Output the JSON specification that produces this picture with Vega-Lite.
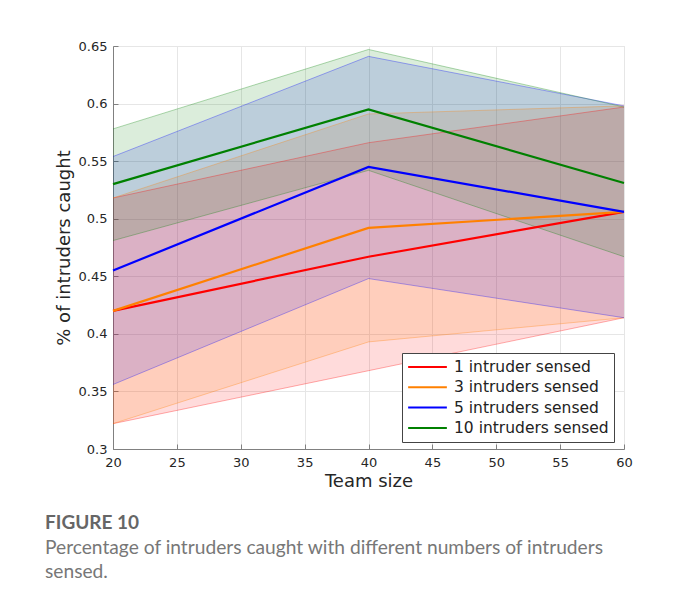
{
  "$schema": "https://vega.github.io/schema/vega-lite/v6.json",
  "width": 511,
  "height": 403,
  "padding": {"left": 45, "top": 40, "right": 5, "bottom": 5},
  "background": "white",
  "title": {
    "text": "FIGURE 10",
    "subtitle": ["Percentage of intruders caught with different numbers of intruders", "sensed."],
    "orient": "bottom",
    "anchor": "start",
    "frame": "group",
    "dx": -68,
    "offset": 24,
    "font": "Lato",
    "fontSize": 19,
    "fontWeight": "bold",
    "color": "#666666",
    "subtitleFont": "Lato",
    "subtitleFontSize": 19.2,
    "subtitleColor": "#777777",
    "subtitleLineHeight": 24,
    "subtitlePadding": 6
  },
  "data": {
    "values": [
      {"team": 20, "series": "1 intruder sensed", "mean": 0.42, "lo": 0.322, "hi": 0.518},
      {"team": 40, "series": "1 intruder sensed", "mean": 0.467, "lo": 0.368, "hi": 0.566},
      {"team": 60, "series": "1 intruder sensed", "mean": 0.506, "lo": 0.414, "hi": 0.597},
      {"team": 20, "series": "3 intruders sensed", "mean": 0.42, "lo": 0.322, "hi": 0.518},
      {"team": 40, "series": "3 intruders sensed", "mean": 0.492, "lo": 0.393, "hi": 0.591},
      {"team": 60, "series": "3 intruders sensed", "mean": 0.506, "lo": 0.414, "hi": 0.598},
      {"team": 20, "series": "5 intruders sensed", "mean": 0.455, "lo": 0.356, "hi": 0.554},
      {"team": 40, "series": "5 intruders sensed", "mean": 0.545, "lo": 0.448, "hi": 0.641},
      {"team": 60, "series": "5 intruders sensed", "mean": 0.506, "lo": 0.414, "hi": 0.598},
      {"team": 20, "series": "10 intruders sensed", "mean": 0.53, "lo": 0.481, "hi": 0.578},
      {"team": 40, "series": "10 intruders sensed", "mean": 0.595, "lo": 0.542, "hi": 0.647},
      {"team": 60, "series": "10 intruders sensed", "mean": 0.531, "lo": 0.467, "hi": 0.597}
    ]
  },
  "encoding": {
    "x": {
      "field": "team",
      "type": "quantitative",
      "scale": {"domain": [20, 60], "nice": false},
      "axis": {"values": [20, 25, 30, 35, 40, 45, 50, 55, 60], "title": "Team size"}
    },
    "color": {
      "field": "series",
      "type": "nominal",
      "scale": {
        "domain": ["1 intruder sensed", "3 intruders sensed", "5 intruders sensed", "10 intruders sensed"],
        "range": ["#ff0000", "#ff8000", "#0000ff", "#008000"]
      },
      "legend": {
        "title": null,
        "orient": "none",
        "legendX": 289,
        "legendY": 307,
        "symbolType": "stroke",
        "symbolSize": 1500,
        "symbolStrokeWidth": 2,
        "symbolOpacity": 1,
        "clipHeight": 18,
        "rowPadding": 2.3,
        "labelOffset": 6,
        "labelFont": "DejaVu Sans",
        "labelFontSize": 15.5,
        "labelColor": "#222222",
        "padding": 5,
        "strokeColor": "#444444",
        "fillColor": "white",
        "cornerRadius": 0,
        "labelLimit": 300
      }
    }
  },
  "layer": [
    {
      "mark": {"type": "area", "fillOpacity": 0.14},
      "encoding": {
        "y": {"field": "lo", "type": "quantitative"},
        "y2": {"field": "hi"}
      }
    },
    {
      "mark": {"type": "line", "strokeWidth": 0.8, "opacity": 0.4},
      "encoding": {"y": {"field": "lo", "type": "quantitative"}}
    },
    {
      "mark": {"type": "line", "strokeWidth": 0.8, "opacity": 0.4},
      "encoding": {"y": {"field": "hi", "type": "quantitative"}}
    },
    {
      "mark": {"type": "line", "strokeWidth": 2.2},
      "encoding": {
        "y": {
          "field": "mean",
          "type": "quantitative",
          "scale": {"domain": [0.3, 0.65], "nice": false, "zero": false},
          "axis": {"values": [0.3, 0.35, 0.4, 0.45, 0.5, 0.55, 0.6, 0.65], "format": ".2~f", "title": "% of intruders caught"}
        }
      }
    }
  ],
  "config": {
    "view": {"stroke": "#dcdcdc", "strokeWidth": 1},
    "axis": {
      "labelFont": "DejaVu Sans",
      "labelFontSize": 13,
      "labelColor": "#262626",
      "labelFlush": false,
      "labelOverlap": false,
      "titleFont": "DejaVu Sans",
      "titleFontSize": 18,
      "titleFontWeight": "normal",
      "titleColor": "#262626",
      "domainColor": "#808080",
      "tickColor": "#808080",
      "tickSize": -5,
      "gridColor": "#e6e6e6",
      "grid": true
    },
    "axisX": {"labelPadding": 12, "titlePadding": 3},
    "axisY": {"labelPadding": 11, "titlePadding": 5}
  }
}
